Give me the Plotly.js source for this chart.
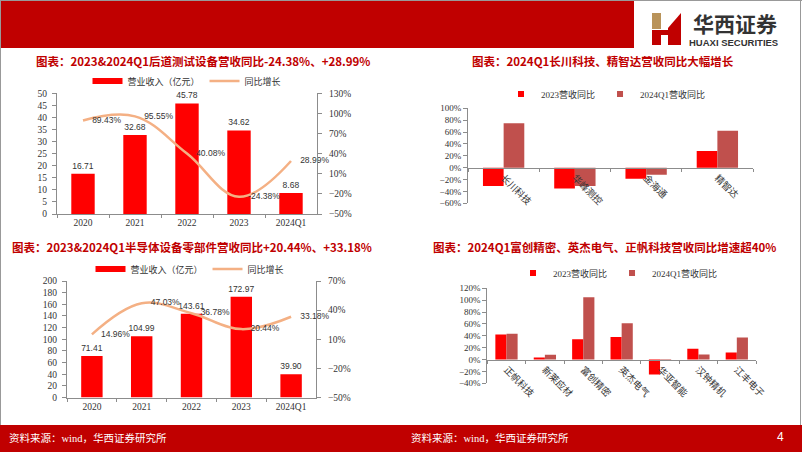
<!DOCTYPE html>
<html><head><meta charset="utf-8">
<script src="https://cdn.plot.ly/plotly-3.0.1.min.js"></script>
<style>html,body{margin:0;padding:0;background:#fff}</style>
</head><body><div id="chart" style="width:802px;height:452px"></div>
<script>
// ---- Data ----
const years = ['2020', '2021', '2022', '2023', '2024Q1'];
// Chart 1: back-end test equipment
const testRevenue = [16.71, 32.68, 45.78, 34.62, 8.68];
const testGrowth = [89.43, 95.55, 40.08, -24.38, 28.99];
// Chart 3: semiconductor equipment parts
const partsRevenue = [71.41, 104.99, 143.61, 172.97, 39.90];
const partsGrowth = [14.96, 47.03, 36.78, 20.44, 33.18];
// Chart 2: test companies YoY
const testCompanies = ['长川科技', '华峰测控', '金海通', '精智达'];
const testYoY2023 = [-31, -35, -18.5, 28];
const testYoY2024Q1 = [75, -31, -12, 62];
// Chart 4: parts companies YoY
const partsCompanies = ['正帆科技', '新莱应材', '富创精密', '英杰电气', '华亚智能', '汉钟精机', '江丰电子'];
const partsYoY2023 = [42, 3.5, 34, 38, -25, 18, 12];
const partsYoY2024Q1 = [43.5, 8, 105, 61, -2, 8.5, 37];

const seriesNames = ['营业收入（亿元）', '同比增长'];
const yoyNames = ['2023营收同比', '2024Q1营收同比'];

// ---- Styles ----
const W = 802, H = 452;
const px = v => v / W;
const py = v => 1 - v / H;
const RED = '#FF0000', DARKRED = '#C0504D', BRAND = '#C00000', LINE = '#F4B084';
const SERIF = 'Times New Roman, Liberation Serif, Noto Sans CJK SC, serif';
const SANS = 'Arial, Liberation Sans, Noto Sans CJK SC, sans-serif';
const CJK = 'Noto Sans CJK SC, sans-serif';
const AX = '#8C8C8C';
const TXT = '#333333';

function zeroPos(dom, rng) { return dom[0] + (0 - rng[0]) / (rng[1] - rng[0]) * (dom[1] - dom[0]); }

const traces = [];
function dualChart(xa, ya, ya2, cats, rev, growth, legendId, barWidth) {
  traces.push({type: 'bar', x: cats, y: rev, xaxis: xa, yaxis: ya, marker: {color: RED}, width: barWidth,
    text: rev.map(v => v.toFixed(2)), textposition: 'outside', cliponaxis: false, constraintext: 'none',
    textfont: {family: SANS, size: 8.5, color: TXT}, showlegend: false, hoverinfo: 'skip'});
  // legend proxy for bars (wide flat swatch like reference)
  traces.push({type: 'scatter', x: [null], y: [null], xaxis: xa, yaxis: ya, mode: 'lines',
    line: {color: RED, width: 6}, name: seriesNames[0], legend: legendId});
  traces.push({type: 'scatter', x: cats, y: growth, xaxis: xa, yaxis: ya2, mode: 'lines',
    line: {color: LINE, width: 2.5, shape: 'spline', smoothing: 1.1}, name: seriesNames[1], legend: legendId, hoverinfo: 'skip'});
  traces.push({type: 'scatter', x: cats, y: growth, xaxis: xa, yaxis: ya2, mode: 'markers+text',
    marker: {size: 13, color: 'rgba(0,0,0,0)'}, text: growth.map(v => v.toFixed(2) + '%'),
    textposition: 'middle right', textfont: {family: SANS, size: 8.5, color: TXT}, cliponaxis: false,
    showlegend: false, hoverinfo: 'skip'});
}
function yoyChart(xa, ya, cats, a, b, legendId) {
  traces.push({type: 'bar', x: cats, y: a, xaxis: xa, yaxis: ya, marker: {color: RED}, showlegend: false, hoverinfo: 'skip'});
  traces.push({type: 'bar', x: cats, y: b, xaxis: xa, yaxis: ya, marker: {color: DARKRED}, showlegend: false, hoverinfo: 'skip'});
  traces.push({type: 'scatter', x: [null], y: [null], xaxis: xa, yaxis: ya, mode: 'markers',
    marker: {symbol: 'square', size: 6, color: RED}, name: yoyNames[0], legend: legendId});
  traces.push({type: 'scatter', x: [null], y: [null], xaxis: xa, yaxis: ya, mode: 'markers',
    marker: {symbol: 'square', size: 6, color: DARKRED}, name: yoyNames[1], legend: legendId});
}
dualChart('x', 'y', 'y2', years, testRevenue, testGrowth, 'legend', 0.45);
yoyChart('x2', 'y3', testCompanies, testYoY2023, testYoY2024Q1, 'legend2');
dualChart('x3', 'y4', 'y5', years, partsRevenue, partsGrowth, 'legend3', 0.43);
yoyChart('x4', 'y6', partsCompanies, partsYoY2023, partsYoY2024Q1, 'legend4');

const baseY = {showgrid: false, zeroline: false, showline: true, linecolor: AX, linewidth: 1,
  ticks: 'outside', ticklen: 4, tickcolor: AX, tickfont: {family: SERIF, size: 9.5, color: TXT}, fixedrange: true};
const baseX = {type: 'category', showgrid: false, zeroline: false, showline: true, linecolor: AX, linewidth: 1,
  ticks: 'outside', ticklen: 3, tickcolor: AX, tickson: 'boundaries', tickfont: {family: SERIF, size: 9.5, color: TXT}, fixedrange: true};

const d2 = [py(203.3), py(108.3)], r2 = [-60, 100];
const d4 = [py(383.3), py(288.3)], r4 = [-40, 120];

const legBase = {orientation: 'h', bgcolor: 'rgba(0,0,0,0)', yanchor: 'middle', xanchor: 'center', itemwidth: 30,
  traceorder: 'normal', font: {family: CJK, size: 9, color: TXT}};

const layout = {
  width: W, height: H, margin: {l: 0, r: 0, t: 0, b: 0}, paper_bgcolor: '#fff', plot_bgcolor: 'rgba(0,0,0,0)',
  barmode: 'group', bargap: 0.42, bargroupgap: 0, hovermode: false,
  xaxis: Object.assign({}, baseX, {domain: [px(57), px(317)], anchor: 'y'}),
  yaxis: Object.assign({}, baseY, {domain: [py(214), py(93.3)], range: [0, 50], tick0: 0, dtick: 5, anchor: 'x', ticklabelstandoff: 3}),
  yaxis2: Object.assign({}, baseY, {overlaying: 'y', side: 'right', anchor: 'x', range: [-50, 130], tick0: -50, dtick: 30, ticksuffix: '%', ticklabelstandoff: 5}),
  xaxis2: Object.assign({}, baseX, {domain: [px(468), px(753)], anchor: 'free', position: zeroPos(d2, r2),
    tickangle: 45, tickfont: {family: CJK, size: 9.5, color: TXT}}),
  yaxis3: Object.assign({}, baseY, {domain: d2, range: r2, tick0: -60, dtick: 20, ticksuffix: '%', anchor: 'x2', tickfont: {family: SERIF, size: 9, color: TXT}}),
  xaxis3: Object.assign({}, baseX, {domain: [px(67), px(316)], anchor: 'y4'}),
  yaxis4: Object.assign({}, baseY, {domain: [py(397.5), py(281)], range: [0, 200], tick0: 0, dtick: 20, anchor: 'x3', ticklabelstandoff: 3}),
  yaxis5: Object.assign({}, baseY, {overlaying: 'y4', side: 'right', anchor: 'x3', range: [-50, 70], tick0: -50, dtick: 30, ticksuffix: '%', ticklabelstandoff: 5}),
  xaxis4: Object.assign({}, baseX, {domain: [px(487.3), px(756)], anchor: 'free', position: zeroPos(d4, r4),
    tickangle: 45, tickfont: {family: CJK, size: 9.5, color: TXT}}),
  yaxis6: Object.assign({}, baseY, {domain: d4, range: r4, tick0: -40, dtick: 20, ticksuffix: '%', anchor: 'x4', tickfont: {family: SERIF, size: 9, color: TXT}}),
  legend: Object.assign({}, legBase, {x: px(187), y: py(81)}),
  legend2: Object.assign({}, legBase, {x: px(606), y: py(94), font: {family: SERIF, size: 9, color: TXT}}),
  legend3: Object.assign({}, legBase, {x: px(190), y: py(269)}),
  legend4: Object.assign({}, legBase, {x: px(618), y: py(273), font: {family: SERIF, size: 9, color: TXT}}),
  shapes: [
    {type: 'rect', xref: 'paper', yref: 'paper', x0: 0, x1: px(634), y0: py(48), y1: py(0), fillcolor: BRAND, line: {width: 0}, layer: 'below'},
    {type: 'line', xref: 'paper', yref: 'paper', x0: 0, x1: 1, y0: py(0.5), y1: py(0.5), line: {color: '#999', width: 1}},
    {type: 'rect', xref: 'paper', yref: 'paper', x0: 0, x1: 1, y0: py(452), y1: py(425), fillcolor: BRAND, line: {width: 0}, layer: 'below'},
    {type: 'line', xref: 'paper', yref: 'paper', x0: px(0.5), x1: px(0.5), y0: py(425), y1: py(0), line: {color: '#999', width: 1}},
    {type: 'line', xref: 'paper', yref: 'paper', x0: px(800.5), x1: px(800.5), y0: py(425), y1: py(0), line: {color: '#999', width: 1}},
    // logo mark
    {type: 'rect', xref: 'paper', yref: 'paper', x0: px(652), x1: px(661), y0: py(29), y1: py(13), fillcolor: '#B9935A', line: {width: 0}},
    {type: 'rect', xref: 'paper', yref: 'paper', x0: px(652), x1: px(661), y0: py(45), y1: py(30), fillcolor: BRAND, line: {width: 0}},
    {type: 'rect', xref: 'paper', yref: 'paper', x0: px(661), x1: px(669), y0: py(35), y1: py(30), fillcolor: BRAND, line: {width: 0}},
    {type: 'path', xref: 'paper', yref: 'paper', path: `M ${px(668)} ${py(28)} L ${px(681)} ${py(13)} L ${px(681)} ${py(45)} L ${px(668)} ${py(45)} Z`, fillcolor: BRAND, line: {width: 0}}
  ],
  annotations: [
    {text: '图表：2023&2024Q1后道测试设备营收同比-24.38%、+28.99%', x: px(203), y: py(61)},
    {text: '图表：2024Q1长川科技、精智达营收同比大幅增长', x: px(603), y: py(61)},
    {text: '图表：2023&2024Q1半导体设备零部件营收同比+20.44%、+33.18%', x: px(192), y: py(247)},
    {text: '图表：2024Q1富创精密、英杰电气、正帆科技营收同比增速超40%', x: px(604), y: py(247)}
  ].map(a => Object.assign({xref: 'paper', yref: 'paper', showarrow: false, xanchor: 'center', yanchor: 'middle',
     font: {family: CJK, size: 11.5, color: BRAND, weight: 700}}, a)).concat([
    {text: '华西证券', x: px(735), y: py(23), xref: 'paper', yref: 'paper', showarrow: false, xanchor: 'center', yanchor: 'middle',
      font: {family: CJK, size: 21, color: '#333', weight: 700}},
    {text: 'HUAXI SECURITIES', x: px(733), y: py(42), xref: 'paper', yref: 'paper', showarrow: false, xanchor: 'center', yanchor: 'middle',
      font: {family: 'Liberation Sans Narrow, Arial, sans-serif', size: 9.5, color: '#333', weight: 700}},
    {text: '资料来源：wind，华西证券研究所', x: px(7), y: py(438), xref: 'paper', yref: 'paper', showarrow: false, xanchor: 'left', yanchor: 'middle',
      font: {family: SERIF, size: 10.5, color: '#fff'}},
    {text: '资料来源：wind，华西证券研究所', x: px(409), y: py(438), xref: 'paper', yref: 'paper', showarrow: false, xanchor: 'left', yanchor: 'middle',
      font: {family: SERIF, size: 10.5, color: '#fff'}},
    {text: '4', x: px(780), y: py(437), xref: 'paper', yref: 'paper', showarrow: false, xanchor: 'center', yanchor: 'middle',
      font: {family: SANS, size: 12, color: '#fff'}}
  ])
};

Plotly.newPlot('chart', traces, layout, {staticPlot: true, displayModeBar: false});
</script></body></html>
